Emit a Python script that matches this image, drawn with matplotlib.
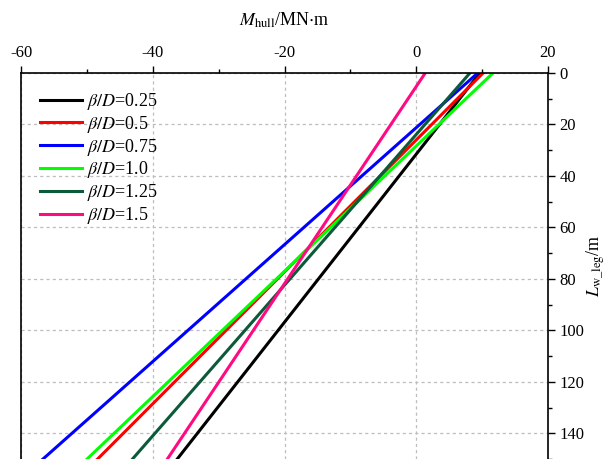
import matplotlib.pyplot as plt
from matplotlib.ticker import MultipleLocator

plt.rcParams['font.family'] = ['Liberation Serif', 'DejaVu Serif']
plt.rcParams['mathtext.fontset'] = 'stix'
plt.rcParams['axes.unicode_minus'] = False

# данные: изгибающий момент на концах (L = 0 и L = 150 м)
L = [0, 150]
labels = ['0.25', '0.5', '0.75', '1.0', '1.25', '1.5']
m_black = [9.7, -36.3]
m_red = [10.2, -48.4]
m_blue = [9.4, -56.7]
m_green = [11.7, -50.0]
m_dkgreen = [8.2, -43.1]
m_pink = [1.4, -37.8]
series = [m_black, m_red, m_blue, m_green, m_dkgreen, m_pink]
colors = ['black', '#FF0000', '#0000FF', '#00FF00', '#0B5A3A', '#FF0A82']

fig = plt.figure(figsize=(6.08, 4.59), dpi=100)
ax = fig.add_axes([0.035, 0.0, 0.866, 0.8414])

for m, c, lab in zip(series, colors, labels):
    ax.plot(m, L, color=c, lw=2.2, label=r'$\beta/D$=' + lab)

ax.set_xlim(-60, 20)
ax.set_ylim(150, 0)
ax.xaxis.set_major_locator(MultipleLocator(20))
ax.xaxis.set_minor_locator(MultipleLocator(10))
ax.yaxis.set_major_locator(MultipleLocator(20))
ax.yaxis.set_minor_locator(MultipleLocator(10))
ax.xaxis.tick_top()
ax.yaxis.tick_right()
ax.xaxis.set_label_position('top')
ax.yaxis.set_label_position('right')
ax.tick_params(which='major', length=5, width=1, labelsize=12, direction='out')
ax.tick_params(which='minor', length=3, width=1, direction='out')
ax.spines['bottom'].set_visible(False)
for s in ['top', 'left', 'right']:
    ax.spines[s].set_linewidth(1.2)

ax.grid(True, which='major', color='#bdbdbd', linestyle=(0, (2.5, 2.5)), lw=0.9)

ax.set_xlabel(r'$M_{\mathrm{hull}}$/MN$\cdot$m', fontsize=13, labelpad=14)
ax.set_ylabel(r'$L_{\mathrm{w\_leg}}$/m', fontsize=13, labelpad=0)

ax.legend(loc='upper left', bbox_to_anchor=(0.005, 0.995), frameon=False, fontsize=13,
          handlelength=2.3, handletextpad=0.3, labelspacing=0.1)

plt.savefig('out.png', dpi=100)
